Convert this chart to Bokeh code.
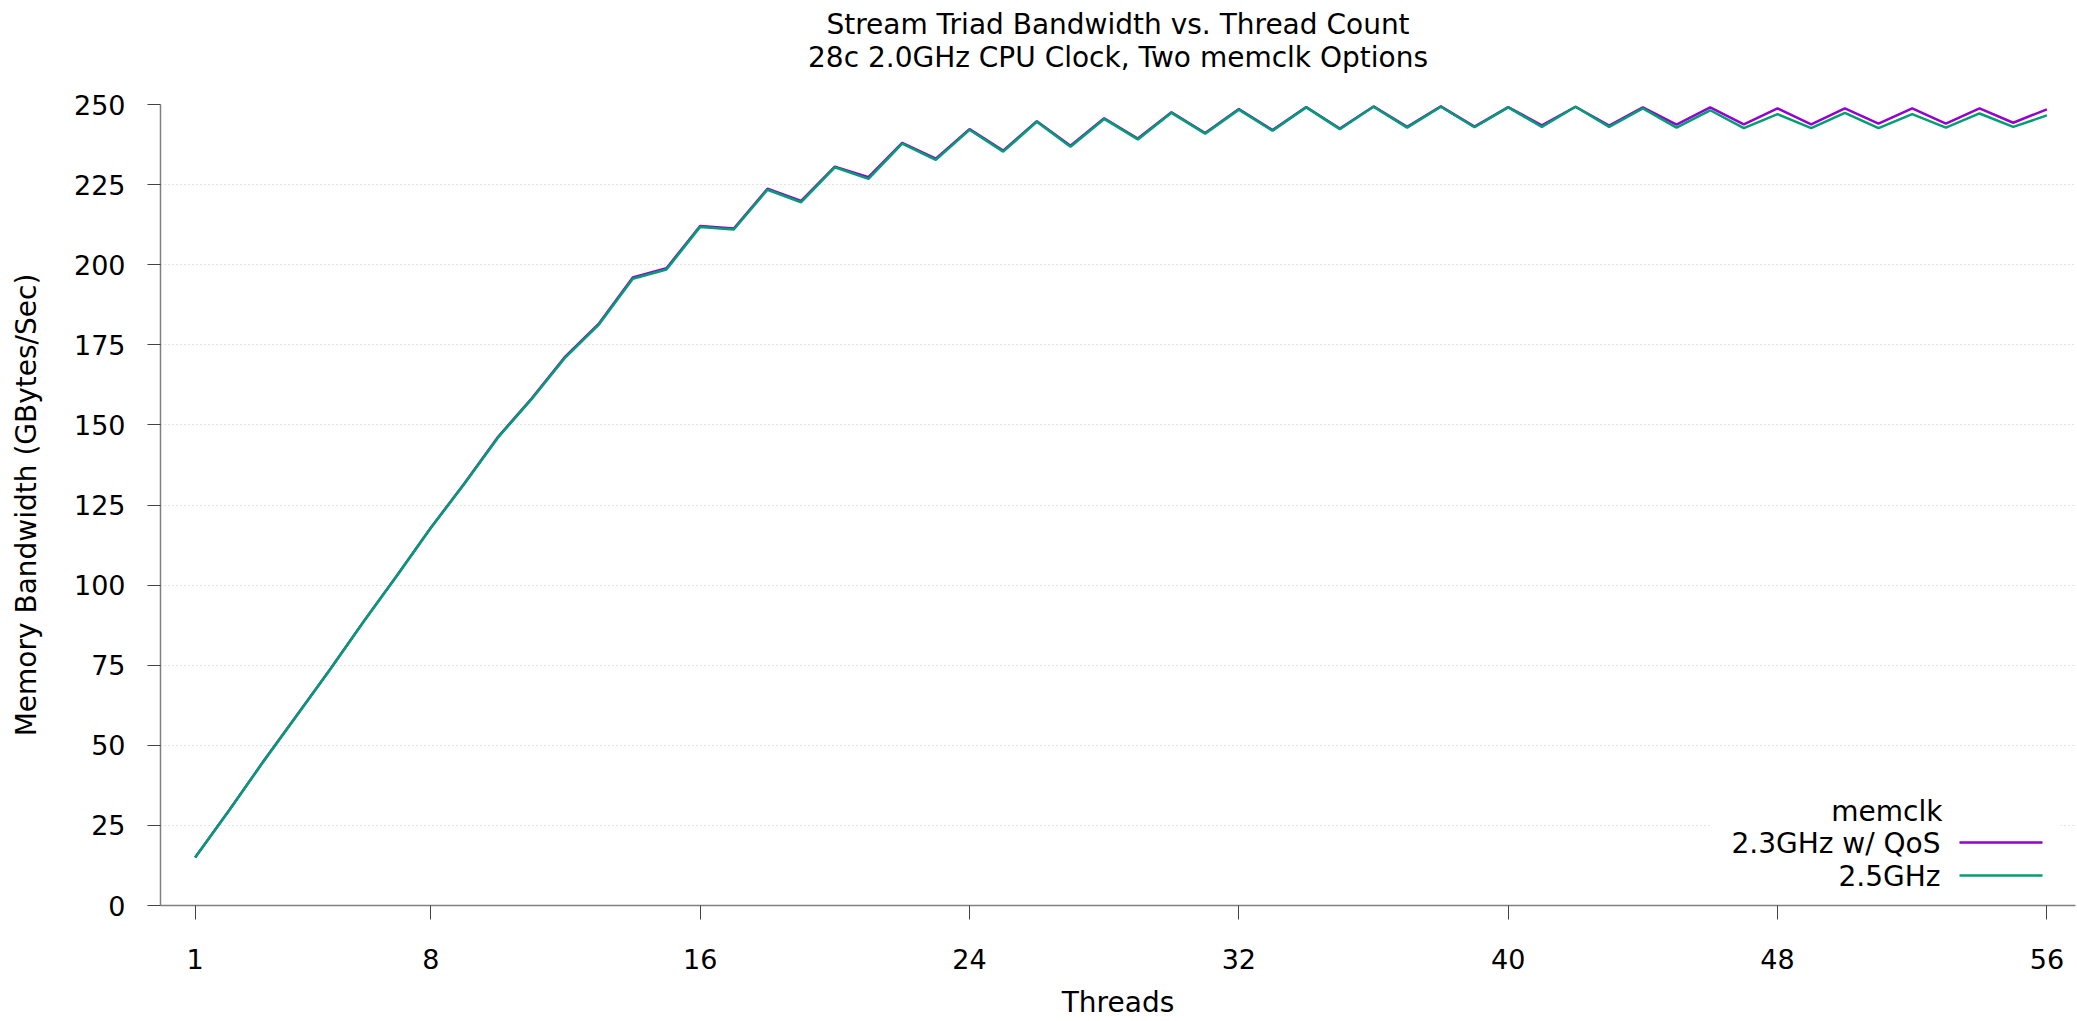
from bokeh.plotting import figure
from bokeh.models import Range1d, FixedTicker, Label, BoxAnnotation, Title
from bokeh.embed import file_html
from bokeh.resources import INLINE

# ---- data ----
threads = list(range(1, 57))

bw_23_qos = [15.0, 29.6, 44.6, 59.1, 73.6, 88.6, 103.1, 117.9, 131.8, 146.3,
             158.3, 171.4, 181.7, 196.0, 198.9, 212.1, 211.3, 223.7, 219.9, 230.6,
             227.3, 238.0, 233.1, 242.3, 235.6, 244.8, 237.1, 245.7, 239.4, 247.6,
             241.1, 248.6, 242.0, 249.2, 242.5, 249.4, 243.0, 249.4, 243.1, 249.2,
             243.5, 249.3, 243.4, 249.1, 243.7, 249.1, 243.8, 248.8, 243.8, 248.8,
             244.0, 248.8, 244.0, 248.8, 244.3, 248.5]

bw_25 = [15.0, 29.5, 44.5, 59.0, 73.5, 88.5, 103.0, 117.8, 131.6, 146.1,
         158.1, 171.1, 181.4, 195.6, 198.5, 211.8, 211.0, 223.4, 219.5, 230.4,
         226.8, 237.8, 232.7, 242.1, 235.3, 244.6, 236.8, 245.5, 239.1, 247.4,
         240.9, 248.4, 241.8, 249.1, 242.3, 249.3, 242.8, 249.3, 242.9, 249.1,
         243.0, 249.3, 243.0, 248.8, 242.8, 248.2, 242.6, 247.0, 242.6, 247.4,
         242.6, 247.0, 242.8, 247.2, 243.0, 246.6]

series_labels = ["2.3GHz w/ QoS", "2.5GHz"]
series_colors = ["#9400d3", "#009e73"]
legend_title = "memclk"
x_ticks = [1, 8, 16, 24, 32, 40, 48, 56]
y_ticks = list(range(0, 251, 25))
title_lines = ["Stream Triad Bandwidth vs. Thread Count",
               "28c 2.0GHz CPU Clock, Two memclk Options"]
x_label = "Threads"
y_label = "Memory Bandwidth (GBytes/Sec)"

FONT = "DejaVu Sans"

p = figure(width=2076, height=1021,
           x_range=Range1d(-0.028, 56.85), y_range=Range1d(0, 250),
           output_backend="svg", toolbar_location=None, title=None,
           min_border_left=160, min_border_right=1,
           min_border_top=104, min_border_bottom=115)
p.background_fill_color = "white"
p.border_fill_color = "white"
p.outline_line_color = None

# axes
for ax in (p.xaxis[0], p.yaxis[0]):
    ax.axis_line_color = "#808080"
    ax.axis_line_width = 1.5
    ax.major_tick_line_color = "#444444"
    ax.major_tick_line_width = 1
    ax.minor_tick_line_color = None
    ax.major_tick_in = 0
    ax.major_label_text_font = FONT
    ax.major_label_text_font_size = "27px"
    ax.major_label_text_color = "black"
    ax.axis_label_text_font = FONT
    ax.axis_label_text_font_size = "28px"
    ax.axis_label_text_font_style = "normal"
    ax.axis_label_text_color = "black"

p.xaxis.ticker = FixedTicker(ticks=x_ticks)
p.yaxis.ticker = FixedTicker(ticks=y_ticks)
p.xaxis.major_tick_out = 14
p.yaxis.major_tick_out = 13
p.xaxis.major_label_standoff = 29
p.yaxis.major_label_standoff = 22
p.xaxis.axis_label = x_label
p.yaxis.axis_label = y_label
p.xaxis.axis_label_standoff = 14
p.yaxis.axis_label_standoff = 28

p.xgrid.visible = False
p.ygrid.grid_line_color = "#c8c8c8"
p.ygrid.grid_line_dash = "1 3"
p.ygrid.grid_line_width = 1

# data lines
p.line(threads, bw_23_qos, line_color=series_colors[0], line_width=2.5)
p.line(threads, bw_25, line_color=series_colors[1], line_width=2.5)

# title: second line added first (it sits next to the frame)
p.add_layout(Title(text=title_lines[1], align="center", text_font=FONT,
                   text_font_size="28px", text_font_style="normal",
                   text_color="black", standoff=62), "above")
p.add_layout(Title(text=title_lines[0], align="center", text_font=FONT,
                   text_font_size="28px", text_font_style="normal",
                   text_color="black", standoff=-67), "above")

# legend (text right-aligned, sample line on the right)
p.add_layout(BoxAnnotation(left=1551, right=1899, bottom=13, top=114,
                           left_units="screen", right_units="screen",
                           bottom_units="screen", top_units="screen",
                           fill_color="white", fill_alpha=1.0, line_color=None))
p.add_layout(Label(x=1782, y=94, x_units="screen", y_units="screen",
                   text=legend_title, text_align="right", text_baseline="middle",
                   text_font=FONT, text_font_size="28px", text_color="black"))
for lab, col, yy in zip(series_labels, series_colors, [62, 29]):
    p.add_layout(Label(x=1780, y=yy, x_units="screen", y_units="screen",
                       text=lab, text_align="right", text_baseline="middle",
                       text_font=FONT, text_font_size="28px", text_color="black"))
    p.add_layout(BoxAnnotation(left=1799, right=1882, bottom=yy - 0.2, top=yy + 2.3,
                               left_units="screen", right_units="screen",
                               bottom_units="screen", top_units="screen",
                               fill_color=col, fill_alpha=1.0, line_color=None))

open("out.html", "w").write(file_html(p, INLINE))
